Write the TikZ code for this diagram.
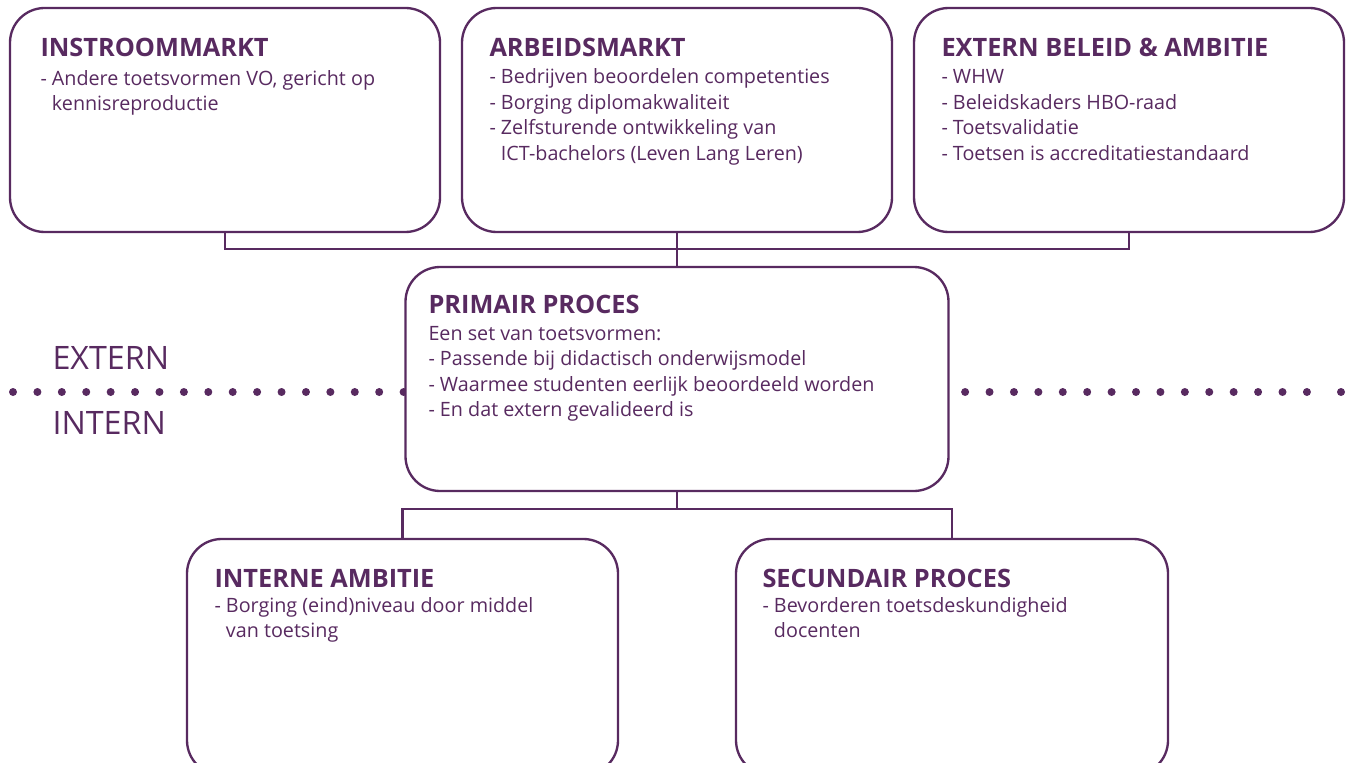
\documentclass[tikz,border=0pt]{standalone}
\usepackage{fontspec}
\setmainfont{Open Sans}
\definecolor{paars}{RGB}{88,42,96}
\newcommand{\inspring}{\hphantom{-\ }}

\tikzset{every picture/.style={line width=0.75pt}}
\tikzset{
	blok/.style={draw=paars, line width=1.75pt, fill=white, rounded corners=26pt, inner sep=0pt},
	titel/.style={anchor=base west, inner sep=0pt, text=paars, font=\fontsize{19}{22}\selectfont\bfseries},
	tekst/.style={anchor=north west, inner sep=0pt, text=paars, align=left, font=\fontsize{14.8}{19.1}\selectfont},
	zijde/.style={anchor=base west, inner sep=0pt, text=paars, font=\fontsize{24.2}{28}\selectfont},
	verbind/.style={draw=paars, line width=1.75pt},
}

\begin{document}
\begin{tikzpicture}[x=0.75pt,y=0.75pt,yscale=-1,xscale=1]
		\useasboundingbox (0,0) rectangle (1349,763);
		\clip (0,0) rectangle (1349,763);
		
		%Dotted line [extern / intern]
		\draw [paars, line width=6pt, line cap=round, dash pattern=on 0pt off 18.31pt] (13,392) -- (1307,392) ;
		\fill [paars] (1341,392) circle (4) ;
		
		%Shape: Rounded Rect [top row]
		\node (instroom) [blok, minimum width=322.5pt, minimum height=168pt] at (225,120) {};
		\node (arbeid) [blok, minimum width=322.5pt, minimum height=168pt] at (677,120) {};
		\node (extbeleid) [blok, minimum width=322.5pt, minimum height=168pt] at (1129,120) {};
		%Shape: Rounded Rect [middle]
		\node (primair) [blok, minimum width=407.25pt, minimum height=168pt] at (677,379) {};
		%Shape: Rounded Rect [bottom row]
		\node (interne) [blok, minimum width=323.25pt, minimum height=177pt] at (402.5,657) {};
		\node (secundair) [blok, minimum width=324pt, minimum height=177pt] at (952,657) {};
		
		\coordinate (boven) at (677,249) ;
		\coordinate (onder) at (677,509) ;
		\draw [verbind] (instroom.south) |- (boven) -| (extbeleid.south) ;
		\draw [verbind] (arbeid.south) -- (primair.north) ;
		\draw [verbind] (interne.north) |- (onder) -| (secundair.north) ;
		\draw [verbind] (primair.south) -- (onder) ;
		
		\draw (40,57) node [titel] {INSTROOMMARKT};
		\draw (40,67) node [tekst] {\strut- Andere toetsvormen VO, gericht op\\ \inspring kennisreproductie};
		\draw (489,57) node [titel] {ARBEIDSMARKT};
		\draw (489,65.5) node [tekst] {\strut- Bedrijven beoordelen competenties\\- Borging diplomakwaliteit\\- Zelfsturende ontwikkeling van\\ \inspring ICT-bachelors (Leven Lang Leren)};
		\draw (941,57) node [titel] {EXTERN BELEID \& AMBITIE};
		\draw (941,65.5) node [tekst] {\strut- WHW\\- Beleidskaders HBO-raad\\- Toetsvalidatie\\- Toetsen is accreditatiestandaard};
		\draw (428,313) node [titel] {PRIMAIR PROCES};
		\draw (428,322) node [tekst] {\strut Een set van toetsvormen:\\- Passende bij didactisch onderwijsmodel\\- Waarmee studenten eerlijk beoordeeld worden\\- En dat extern gevalideerd is};
		\draw (214,587) node [titel] {INTERNE AMBITIE};
		\draw (214,594) node [tekst] {\strut- Borging (eind)niveau door middel\\ \inspring van toetsing};
		\draw (762,587) node [titel] {SECUNDAIR PROCES};
		\draw (762,594) node [tekst] {\strut- Bevorderen toetsdeskundigheid\\ \inspring docenten};
		
		\draw (52,369) node [zijde] {EXTERN};
		\draw (52,434) node [zijde] {INTERN};
		
\end{tikzpicture}
\end{document}
